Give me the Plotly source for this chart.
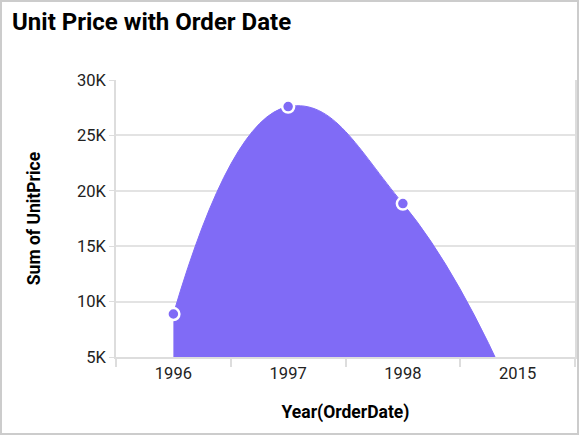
import plotly.graph_objects as go

# Data
years = ['1996', '1997', '1998', '2015']
unit_price = [8880, 27600, 18850, 500]
y_ticks = [5000, 10000, 15000, 20000, 25000, 30000]
y_tick_labels = ['5K', '10K', '15K', '20K', '25K', '30K']

fill_color = '#806BF6'
grid_color = '#E3E3E3'

fig = go.Figure()

fig.add_trace(go.Scatter(
    x=years,
    y=unit_price,
    mode='lines+markers',
    line=dict(shape='spline', smoothing=1.3, color=fill_color, width=1),
    fill='tozeroy',
    fillcolor=fill_color,
    marker=dict(size=12, color=fill_color, line=dict(color='white', width=2.5)),
    cliponaxis=True,
    hoverinfo='x+y',
    showlegend=False,
))

fig.update_layout(
    width=579,
    height=435,
    margin=dict(l=116, r=4, t=80, b=78),
    paper_bgcolor='white',
    plot_bgcolor='white',
    font=dict(family='Roboto', size=16, color='#222222'),
    title=dict(
        text='<b>Unit Price with Order Date</b>',
        font=dict(family='Roboto', size=24, color='#000000'),
        x=12 / 579, xref='container', xanchor='left',
        y=1 - 22 / 435, yref='container', yanchor='middle',
    ),
    shapes=[dict(
        type='rect', xref='paper', yref='paper',
        x0=(1 - 116) / 459, x1=(578 - 116) / 459,
        y0=(357 - 434) / 277, y1=(357 - 1) / 277,
        line=dict(color='#CCCCCC', width=2),
        fillcolor='rgba(0,0,0,0)', layer='below',
    )],
)

fig.update_xaxes(
    type='category',
    range=[-0.5, 3.5],
    showgrid=False,
    showline=True, linecolor='#DDDDDD', linewidth=2,
    ticks='outside', tickson='boundaries', ticklen=8, tickcolor='#DDDDDD', tickwidth=1.5,
    tickfont=dict(size=16.5, color='#222222'),
    title=dict(text='<b>Year(OrderDate)</b>', font=dict(size=17.5, color='#000000'), standoff=24),
    automargin=False,
)

fig.update_yaxes(
    range=[5000, 30000],
    tickvals=y_ticks,
    ticktext=y_tick_labels,
    showgrid=True, gridcolor=grid_color, gridwidth=1.5,
    showline=True, linecolor='#DDDDDD', linewidth=1.5, mirror=True,
    ticks='outside', ticklen=5, tickcolor='#DDDDDD',
    tickfont=dict(size=16.5, color='#222222'),
    title=dict(text='<b>Sum of UnitPrice</b>', font=dict(size=17.5, color='#000000'), standoff=32),
    zeroline=False,
    automargin=False,
)

fig.write_html('out.html', config={'displayModeBar': False},
               post_script="document.body.style.margin='0';")
